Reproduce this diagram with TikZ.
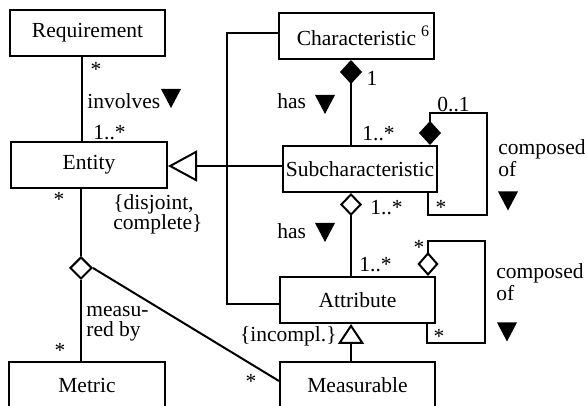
\documentclass[tikz,border=0pt]{standalone}
\usepackage{fontspec}
\setmainfont{Liberation Serif}
\usetikzlibrary{arrows.meta,shapes.geometric}
\begin{document}
\begin{tikzpicture}[x=0.5pt,y=-0.5pt,
  cls/.style={draw, line width=1pt, minimum height=23pt, inner sep=0pt, font=\fontsize{10.75}{12}\selectfont},
  lbl/.style={inner sep=0pt, font=\fontsize{10.75}{10}\selectfont, align=left},
  lbltall/.style={inner sep=0pt, font=\fontsize{10.75}{11}\selectfont, align=left},
  conn/.style={line width=1pt},
  aggdia/.style={draw, line width=1pt, diamond, inner sep=0pt, minimum width=11pt, minimum height=11pt},
  dtri/.pic={\fill (-10,-9.5) -- (10,-9.5) -- (0,9.5) -- cycle;},
  fdia/.style={{Diamond[length=12pt,width=11pt]}-},
  odia/.style={{Diamond[open,length=11.5pt,width=11pt]}-}
]
\useasboundingbox (0,0) rectangle (585,406);
\clip (0,0) rectangle (585,406);

% helper coordinates
\coordinate (c82) at (82,0);
\coordinate (c351) at (351,0);
\coordinate (c428) at (428,0);
\coordinate (c427) at (427,0);
\coordinate (c166) at (0,166);
\coordinate (c227) at (227,200);
\coordinate (s1) at (430,113);
\coordinate (s2) at (487,215);
\coordinate (a1) at (428,241);
\coordinate (a2) at (485,343);

% classes
\node[cls, minimum width=77.5pt] (req) at (87.5,33) {Requirement};
\node[cls, minimum width=78pt] (ent) at (89,165) {Entity};
\node[cls, minimum width=77.5pt] (char) at (356.5,36) {Characteristic\rlap{\hspace{2.5pt}\raisebox{4.5pt}{\fontsize{8}{8}\selectfont 6}}};
\node[cls, minimum width=77pt] (sub) at (360,169) {Subcharacteristic};
\node[cls, minimum width=77.5pt] (att) at (357.5,300) {Attribute};
\node[cls, minimum width=77.5pt] (meas) at (357.5,385) {Measurable};
\node[cls, minimum width=78pt] (met) at (87,385) {Metric};
\node[aggdia] (agg) at (81,268) {};

% Requirement -- Entity
\draw[conn] (req.south -| c82) -- (ent.north -| c82);
\node[lbl] (m1) at (96,69) {*};
\node[lbl, anchor=west] (l1) at (87,101) {involves};
\pic at (171,98.5) {dtri};
\node[lbl, anchor=west] (m2) at (93,133) {1..*};

% Characteristic -- Subcharacteristic
\draw[conn, fdia] (char.south -| c351) -- (sub.north -| c351);
\node[lbl] (m3) at (372,78) {1};
\node[lbl, anchor=west] (l2) at (277,101) {has};
\pic at (325,104.5) {dtri};
\node[lbl, anchor=west] (m4) at (362,134) {1..*};

% Subcharacteristic self composition
\draw[conn, fdia] (sub.north -| s1) -- (s1) -| (s2) -- (s2 -| c428) -- (sub.south -| c428);
\node[lbl, anchor=west] (m5) at (437,105) {0..1};
\node[lbl] (m6) at (441,207) {*};
\node[lbltall, anchor=base west] (l3) at (498,177) {composed\\of};
\pic at (508,201) {dtri};

% Subcharacteristic -> Entity generalization
\draw[conn, -{Triangle[open,length=14.5pt,width=15.5pt]}] (sub.west |- c166) -- (ent.east |- c166);
\node[lbl, anchor=base west] (l4) at (113,230) {\{disjoint,\\complete\}};

% Characteristic -- Attribute
\draw[conn] ([yshift=1.5pt]char.west) -| (c227) |- ([yshift=-2pt]att.west);

% Subcharacteristic -- Attribute
\draw[conn, odia] (sub.south -| c351) -- (att.north -| c351);
\node[lbl, anchor=west] (m7) at (370,208) {1..*};
\node[lbl, anchor=west] (l5) at (277,231) {has};
\pic at (325,232.5) {dtri};
\node[lbl, anchor=west] (m8) at (359,265) {1..*};

% Attribute self aggregation
\draw[conn, {Diamond[open,length=12pt,width=10.5pt]}-] (att.north -| a1) -- (a1) -| (a2) -- (a2 -| c427) -- (att.south -| c427);
\node[lbl] (m9) at (419,247) {*};
\node[lbl] (m10) at (439,336) {*};
\node[lbltall, anchor=base west] (l6) at (496,301) {composed\\of};
\pic at (507,332) {dtri};

% Measurable -> Attribute generalization
\draw[conn, -{Triangle[open,length=10pt,width=13pt]}] (meas.north -| c351) -- (att.south -| c351);
\node[lbl, anchor=east] (l7) at (337,336) {\{incompl.\}};

% Entity -- Metric, measured by
\draw[conn] (ent.south -| agg) -- (agg.north);
\draw[conn] (agg.south) -- (met.north -| agg);
\draw[conn] (agg.east) -- ([yshift=2pt]meas.west);
\node[lbl] (m11) at (59,199) {*};
\node[lbl, anchor=base west] (l8) at (86,337) {measu-\\red by};
\node[lbl] (m12) at (60,350) {*};
\node[lbl] (m13) at (251,381) {*};
\end{tikzpicture}
\end{document}
